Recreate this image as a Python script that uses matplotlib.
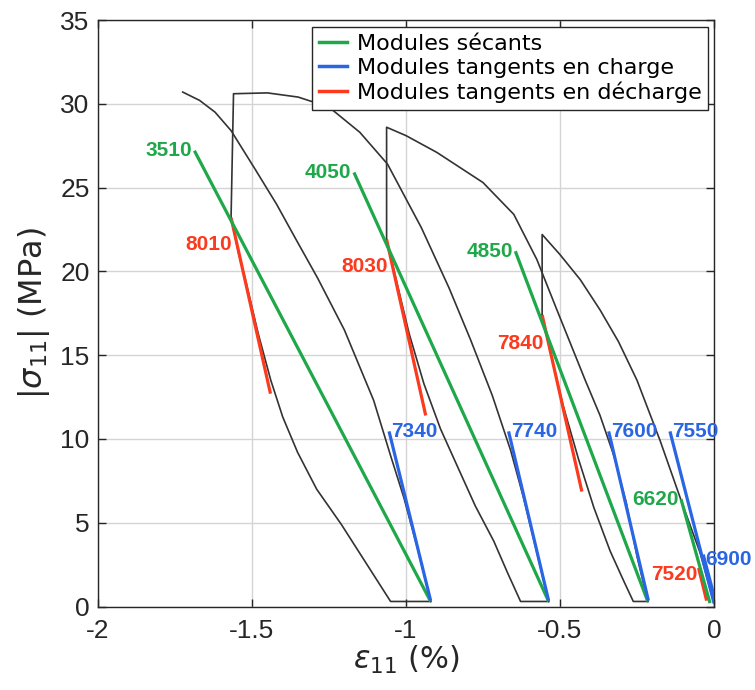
import matplotlib
matplotlib.use("Agg")
import matplotlib.pyplot as plt
from matplotlib.lines import Line2D

plt.rcParams['font.family'] = ['DejaVu Sans']
plt.rcParams['axes.unicode_minus'] = False
plt.rcParams['mathtext.fontset'] = 'dejavusans'

# ---------------- data (strain %, |stress| MPa) ----------------
# black experimental curves, in test order
load1_x = [0.0, -0.045, -0.11, -0.175, -0.25, -0.31, -0.37, -0.434, -0.50, -0.558, -0.558]
load1_y = [0.2, 3.2, 6.5, 9.9, 13.5, 15.8, 17.7, 19.5, 21.0, 22.2, 17.4]
unload1_x = [-0.558, -0.52, -0.49, -0.44, -0.39, -0.337, -0.29, -0.262, -0.215]
unload1_y = [17.4, 14.3, 12.0, 8.8, 5.9, 3.3, 1.4, 0.3, 0.3]

load2_x = [-0.215, -0.25, -0.285, -0.325, -0.37, -0.418, -0.51, -0.575, -0.65, -0.75, -0.9, -1.0, -1.063, -1.063]
load2_y = [0.3, 3.0, 6.2, 9.0, 11.4, 13.5, 17.7, 20.7, 23.4, 25.3, 27.1, 28.1, 28.6, 21.9]
unload2_x = [-1.063, -1.028, -0.99, -0.942, -0.888, -0.834, -0.775, -0.715, -0.67, -0.628, -0.537]
unload2_y = [21.9, 19.2, 16.3, 13.3, 10.6, 8.4, 6.0, 3.9, 2.0, 0.3, 0.3]

load3_x = [-0.537, -0.58, -0.62, -0.66, -0.72, -0.79, -0.86, -0.95, -1.06, -1.15, -1.25, -1.35, -1.45, -1.56, -1.568]
load3_y = [0.3, 3.6, 6.6, 9.3, 12.6, 15.9, 19.0, 22.6, 26.4, 28.3, 29.8, 30.4, 30.65, 30.6, 23.2]
unload3_x = [-1.568, -1.545, -1.52, -1.48, -1.439, -1.40, -1.352, -1.29, -1.21, -1.13, -1.05, -0.92]
unload3_y = [23.2, 21.2, 19.4, 16.3, 13.5, 11.3, 9.2, 7.0, 4.9, 2.6, 0.3, 0.3]

load4_x = [-0.92, -0.96, -1.007, -1.05, -1.105, -1.2, -1.287, -1.36, -1.42, -1.49, -1.568, -1.62, -1.67, -1.725]
load4_y = [0.3, 3.3, 6.5, 9.0, 12.3, 16.5, 19.6, 22.0, 24.0, 26.1, 28.4, 29.5, 30.2, 30.7]

# secant moduli (MPa): segment top / bottom points
sec_labels = ['3510', '4050', '4850', '6620']
sec_top_x = [-1.687, -1.169, -0.645, -0.107]
sec_top_y = [27.2, 25.9, 21.2, 6.4]
sec_bot_x = [-0.92, -0.537, -0.215, -0.013]
sec_bot_y = [0.3, 0.3, 0.3, 0.2]

# tangent moduli on loading
tl_labels = ['7340', '7740', '7600', '7550', '6900']
tl_top_x = [-1.055, -0.667, -0.342, -0.143, -0.035]
tl_top_y = [10.45, 10.45, 10.45, 10.45, 3.1]
tl_bot_x = [-0.92, -0.537, -0.213, 0.0, 0.005]
tl_bot_y = [0.35, 0.35, 0.35, 0.2, 0.3]

# tangent moduli on unloading
tu_labels = ['8010', '8030', '7840', '7520']
tu_top_x = [-1.568, -1.063, -0.558, -0.05]
tu_top_y = [23.2, 21.9, 17.4, 2.3]
tu_bot_x = [-1.44, -0.936, -0.429, -0.024]
tu_bot_y = [12.7, 11.4, 6.86, 0.35]

x_ticks = [-2, -1.5, -1, -0.5, 0]
x_ticklabels = ['-2', '-1.5', '-1', '-0.5', '0']
y_ticks = [0, 5, 10, 15, 20, 25, 30, 35]

legend_labels = ['Modules sécants', 'Modules tangents en charge', 'Modules tangents en décharge']

# ---------------- style ----------------
GREEN = '#1fa84a'
BLUE = '#2a66e4'
RED = '#fb3a1e'
BLACK = '#333333'

fig = plt.figure(figsize=(7.55, 6.9), dpi=100)
ax = fig.add_axes([98 / 755, 83.5 / 690, 616 / 755, 586.5 / 690])

for xs, ys in [(load1_x, load1_y), (unload1_x, unload1_y), (load2_x, load2_y),
               (unload2_x, unload2_y), (load3_x, load3_y), (unload3_x, unload3_y),
               (load4_x, load4_y)]:
    ax.plot(xs, ys, color=BLACK, lw=1.2, zorder=3)

lw_mod = 2.3
for i in range(len(tu_labels)):
    ax.plot([tu_top_x[i], tu_bot_x[i]], [tu_top_y[i], tu_bot_y[i]], color=RED, lw=lw_mod,
            solid_capstyle='butt', zorder=4)
for i in range(len(sec_labels)):
    ax.plot([sec_top_x[i], sec_bot_x[i]], [sec_top_y[i], sec_bot_y[i]], color=GREEN, lw=lw_mod,
            solid_capstyle='butt', zorder=5)
for i in range(len(tl_labels)):
    ax.plot([tl_top_x[i], tl_bot_x[i]], [tl_top_y[i], tl_bot_y[i]], color=BLUE, lw=lw_mod,
            solid_capstyle='butt', zorder=6)

lab_font = dict(fontsize=15, fontweight='bold', family=['Liberation Sans', 'DejaVu Sans'])
for i, t in enumerate(sec_labels):
    ax.text(sec_top_x[i] - 0.008, sec_top_y[i], t, color=GREEN, ha='right', va='center', zorder=7, **lab_font)
for i, t in enumerate(tl_labels):
    dy = 0.0 if i < 4 else -0.3
    ax.text(tl_top_x[i] + 0.008, tl_top_y[i] + dy, t, color=BLUE, ha='left', va='center', zorder=7,
            clip_on=False, **lab_font)
red_dy = [-1.6, -1.6, -1.7, -0.4]
for i, t in enumerate(tu_labels):
    ax.text(tu_top_x[i] + 0.003 - (0.0 if i < 3 else 0.006), tu_top_y[i] + red_dy[i], t, color=RED,
            ha='right', va='center', zorder=7, **lab_font)

ax.set_xlim(-2, 0)
ax.set_ylim(0, 35)
ax.set_xticks(x_ticks)
ax.set_xticklabels(x_ticklabels)
ax.set_yticks(y_ticks)
ax.grid(True, color='#d4d4d4', lw=1.0, zorder=0)
ax.set_axisbelow(True)
ax.tick_params(direction='in', top=True, right=True, length=6, width=1.0,
               colors='#262626', labelsize=19)
ax.tick_params(axis='x', pad=9)
ax.tick_params(axis='y', pad=6)
for lbl in ax.get_xticklabels() + ax.get_yticklabels():
    lbl.set_family(['Liberation Sans', 'DejaVu Sans'])
for s in ax.spines.values():
    s.set_color('#262626')
    s.set_linewidth(1.0)

ax.set_xlabel(r'$\epsilon_{11}$ (%)', fontsize=22, color='#262626', labelpad=1)
ax.set_ylabel(r'$|\sigma_{11}|$ (MPa)', fontsize=23, color='#262626', labelpad=6)

handles = [Line2D([], [], color=GREEN, lw=2.5), Line2D([], [], color=BLUE, lw=2.5),
           Line2D([], [], color=RED, lw=2.5)]
leg = ax.legend(handles, legend_labels, loc='upper right', bbox_to_anchor=(1 - 6 / 616, 1 - 7 / 586.5),
                fontsize=16, frameon=True, fancybox=False, framealpha=1, edgecolor='#262626',
                handlelength=1.25, handletextpad=0.45, labelspacing=0.18, borderpad=0.3,
                borderaxespad=0.0)
leg.get_frame().set_linewidth(1.0)
leg.set_zorder(10)

fig.savefig('out.png', dpi=100)
